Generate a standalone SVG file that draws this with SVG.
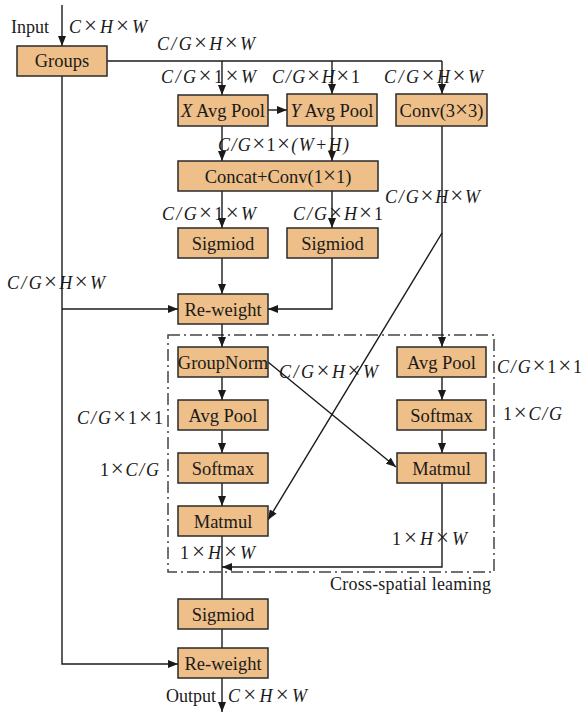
<svg xmlns="http://www.w3.org/2000/svg" width="585" height="713" viewBox="0 0 585 713">
<style>
.box{fill:#EEBF88;stroke:#2a2a2a;stroke-width:1.5}
.bt{font-family:"Liberation Serif","Times New Roman",serif;font-size:18.5px;fill:#1a1a1a;text-anchor:middle}
.lb{font-family:"Liberation Serif","Times New Roman",serif;font-size:18px;fill:#1a1a1a;font-style:italic}
.n{font-style:normal}
.x{font-style:normal;font-size:23px}
.pl{font-family:"Liberation Serif","Times New Roman",serif;font-size:18px;fill:#1a1a1a}
.ln{fill:none;stroke:#1a1a1a;stroke-width:1.4}
.ar{fill:none;stroke:#1a1a1a;stroke-width:1.4;marker-end:url(#ah)}
.dash{fill:none;stroke:#444;stroke-width:1.5;stroke-dasharray:12 4 2 4}
</style>
<defs>
<marker id="ah" viewBox="0 0 10 8" refX="10" refY="4" markerWidth="10" markerHeight="8" markerUnits="userSpaceOnUse" orient="auto">
<path d="M0,0 L10,4 L0,8 Z" fill="#1a1a1a"/>
</marker>
</defs>
<rect width="585" height="713" fill="#ffffff"/>

<rect class="dash" x="168" y="335" width="326" height="237"/>

<g id="connectors">
<line class="ar" x1="62" y1="5" x2="62" y2="46"/>
<line class="ln" x1="107" y1="61" x2="442" y2="61"/>
<line class="ar" x1="222" y1="61" x2="222" y2="95"/>
<line class="ar" x1="332" y1="61" x2="332" y2="94"/>
<line class="ar" x1="442" y1="61" x2="442" y2="94"/>
<line class="ar" x1="268" y1="110" x2="287" y2="110"/>
<line class="ar" x1="222" y1="126" x2="222" y2="161"/>
<line class="ar" x1="332" y1="126" x2="332" y2="161"/>
<line class="ar" x1="222" y1="191" x2="222" y2="228"/>
<line class="ar" x1="332" y1="191" x2="332" y2="228"/>
<line class="ar" x1="222" y1="258" x2="222" y2="294"/>
<polyline class="ar" points="332,258 332,309 268,309"/>
<polyline class="ar" points="62,76 62,664 178,664"/>
<line class="ar" x1="62" y1="309" x2="178" y2="309"/>
<line class="ar" x1="222" y1="324" x2="222" y2="347"/>
<line class="ar" x1="222" y1="377" x2="222" y2="400"/>
<line class="ar" x1="222" y1="430" x2="222" y2="453"/>
<line class="ar" x1="222" y1="483" x2="222" y2="506"/>
<line class="ar" x1="442" y1="126" x2="442" y2="347"/>
<line class="ar" x1="442" y1="233" x2="268" y2="520"/>
<line class="ar" x1="268" y1="362" x2="396" y2="467"/>
<line class="ar" x1="442" y1="377" x2="442" y2="400"/>
<line class="ar" x1="442" y1="430" x2="442" y2="453"/>
<polyline class="ar" points="442,483 442,567 222,567"/>
<line class="ln" x1="222" y1="536" x2="222" y2="599"/>
<line class="ln" x1="222" y1="629" x2="222" y2="648"/>
<line class="ar" x1="222" y1="678" x2="222" y2="712"/>
</g>

<g id="groups"><rect class="box" x="17" y="46" width="90" height="30"/><text class="bt" x="62" y="67">Groups</text></g>
<g id="xavgpool"><rect class="box" x="178" y="95" width="90" height="31"/><text class="bt" x="223" y="117"><tspan font-style="italic">X</tspan> Avg Pool</text></g>
<g id="yavgpool"><rect class="box" x="287" y="94" width="90" height="32"/><text class="bt" x="332" y="117"><tspan font-style="italic">Y</tspan> Avg Pool</text></g>
<g id="conv33"><rect class="box" x="396" y="94" width="91" height="32"/><text class="bt" x="441.5" y="117">Conv(3<tspan class="x">×</tspan>3)</text></g>
<g id="concat"><rect class="box" x="178" y="161" width="200" height="30"/><text class="bt" x="278" y="183">Concat+Conv(1<tspan class="x">×</tspan>1)</text></g>
<g id="sig1"><rect class="box" x="178" y="228" width="90" height="30"/><text class="bt" x="223" y="250">Sigmiod</text></g>
<g id="sig2"><rect class="box" x="287" y="228" width="91" height="30"/><text class="bt" x="332.5" y="250">Sigmiod</text></g>
<g id="reweight1"><rect class="box" x="178" y="294" width="90" height="30"/><text class="bt" x="223" y="316">Re-weight</text></g>
<g id="groupnorm"><rect class="box" x="178" y="347" width="90" height="30"/><text class="bt" x="223" y="369">GroupNorm</text></g>
<g id="avgpoolL"><rect class="box" x="178" y="400" width="90" height="30"/><text class="bt" x="223" y="422">Avg Pool</text></g>
<g id="softmaxL"><rect class="box" x="178" y="453" width="90" height="30"/><text class="bt" x="223" y="475">Softmax</text></g>
<g id="matmulL"><rect class="box" x="178" y="506" width="90" height="30"/><text class="bt" x="223" y="528">Matmul</text></g>
<g id="avgpoolR"><rect class="box" x="397" y="347" width="89" height="30"/><text class="bt" x="441.5" y="369">Avg Pool</text></g>
<g id="softmaxR"><rect class="box" x="397" y="400" width="89" height="30"/><text class="bt" x="441.5" y="422">Softmax</text></g>
<g id="matmulR"><rect class="box" x="397" y="453" width="89" height="30"/><text class="bt" x="441.5" y="475">Matmul</text></g>
<g id="sig3"><rect class="box" x="178" y="599" width="90" height="30"/><text class="bt" x="223" y="621">Sigmiod</text></g>
<g id="reweight2"><rect class="box" x="178" y="648" width="90" height="30"/><text class="bt" x="223" y="670">Re-weight</text></g>

<g id="labels">
<text class="pl" x="11" y="33">Input</text>
<text class="lb" x="69" y="33" textLength="78" lengthAdjust="spacing">C<tspan class="x">×</tspan>H<tspan class="x">×</tspan>W</text>
<text class="lb" x="157" y="50" textLength="98" lengthAdjust="spacing">C/G<tspan class="x">×</tspan>H<tspan class="x">×</tspan>W</text>
<text class="lb" x="161" y="83" textLength="95" lengthAdjust="spacing">C/G<tspan class="x">×</tspan><tspan class="n">1</tspan><tspan class="x">×</tspan>W</text>
<text class="lb" x="272" y="83" textLength="88" lengthAdjust="spacing">C/G<tspan class="x">×</tspan>H<tspan class="x">×</tspan><tspan class="n">1</tspan></text>
<text class="lb" x="384" y="83" textLength="99" lengthAdjust="spacing">C/G<tspan class="x">×</tspan>H<tspan class="x">×</tspan>W</text>
<text class="lb" x="218" y="151" textLength="131" lengthAdjust="spacing">C/G<tspan class="x">×</tspan><tspan class="n">1</tspan><tspan class="x">×</tspan>(W+H)</text>
<text class="lb" x="162" y="220" textLength="94" lengthAdjust="spacing">C/G<tspan class="x">×</tspan><tspan class="n">1</tspan><tspan class="x">×</tspan>W</text>
<text class="lb" x="293" y="220" textLength="90" lengthAdjust="spacing">C/G<tspan class="x">×</tspan>H<tspan class="x">×</tspan><tspan class="n">1</tspan></text>
<text class="lb" x="385" y="203" textLength="95" lengthAdjust="spacing">C/G<tspan class="x">×</tspan>H<tspan class="x">×</tspan>W</text>
<text class="lb" x="7" y="289" textLength="98" lengthAdjust="spacing">C/G<tspan class="x">×</tspan>H<tspan class="x">×</tspan>W</text>
<text class="lb" x="279" y="378" textLength="99" lengthAdjust="spacing">C/G<tspan class="x">×</tspan>H<tspan class="x">×</tspan>W</text>
<text class="lb" x="497" y="373" textLength="85" lengthAdjust="spacing">C/G<tspan class="x">×</tspan><tspan class="n">1</tspan><tspan class="x">×</tspan><tspan class="n">1</tspan></text>
<text class="lb" x="503" y="420" textLength="59" lengthAdjust="spacing"><tspan class="n">1</tspan><tspan class="x">×</tspan>C/G</text>
<text class="lb" x="77" y="424" textLength="86" lengthAdjust="spacing">C/G<tspan class="x">×</tspan><tspan class="n">1</tspan><tspan class="x">×</tspan><tspan class="n">1</tspan></text>
<text class="lb" x="100" y="476" textLength="59" lengthAdjust="spacing"><tspan class="n">1</tspan><tspan class="x">×</tspan>C/G</text>
<text class="lb" x="180" y="559" textLength="75" lengthAdjust="spacing"><tspan class="n">1</tspan><tspan class="x">×</tspan>H<tspan class="x">×</tspan>W</text>
<text class="lb" x="392" y="545" textLength="75" lengthAdjust="spacing"><tspan class="n">1</tspan><tspan class="x">×</tspan>H<tspan class="x">×</tspan>W</text>
<text class="pl" x="330" y="590" textLength="161" lengthAdjust="spacing">Cross-spatial leaming</text>
<text class="pl" x="166" y="702">Output</text>
<text class="lb" x="228" y="702" textLength="79" lengthAdjust="spacing">C<tspan class="x">×</tspan>H<tspan class="x">×</tspan>W</text>
</g>
</svg>
